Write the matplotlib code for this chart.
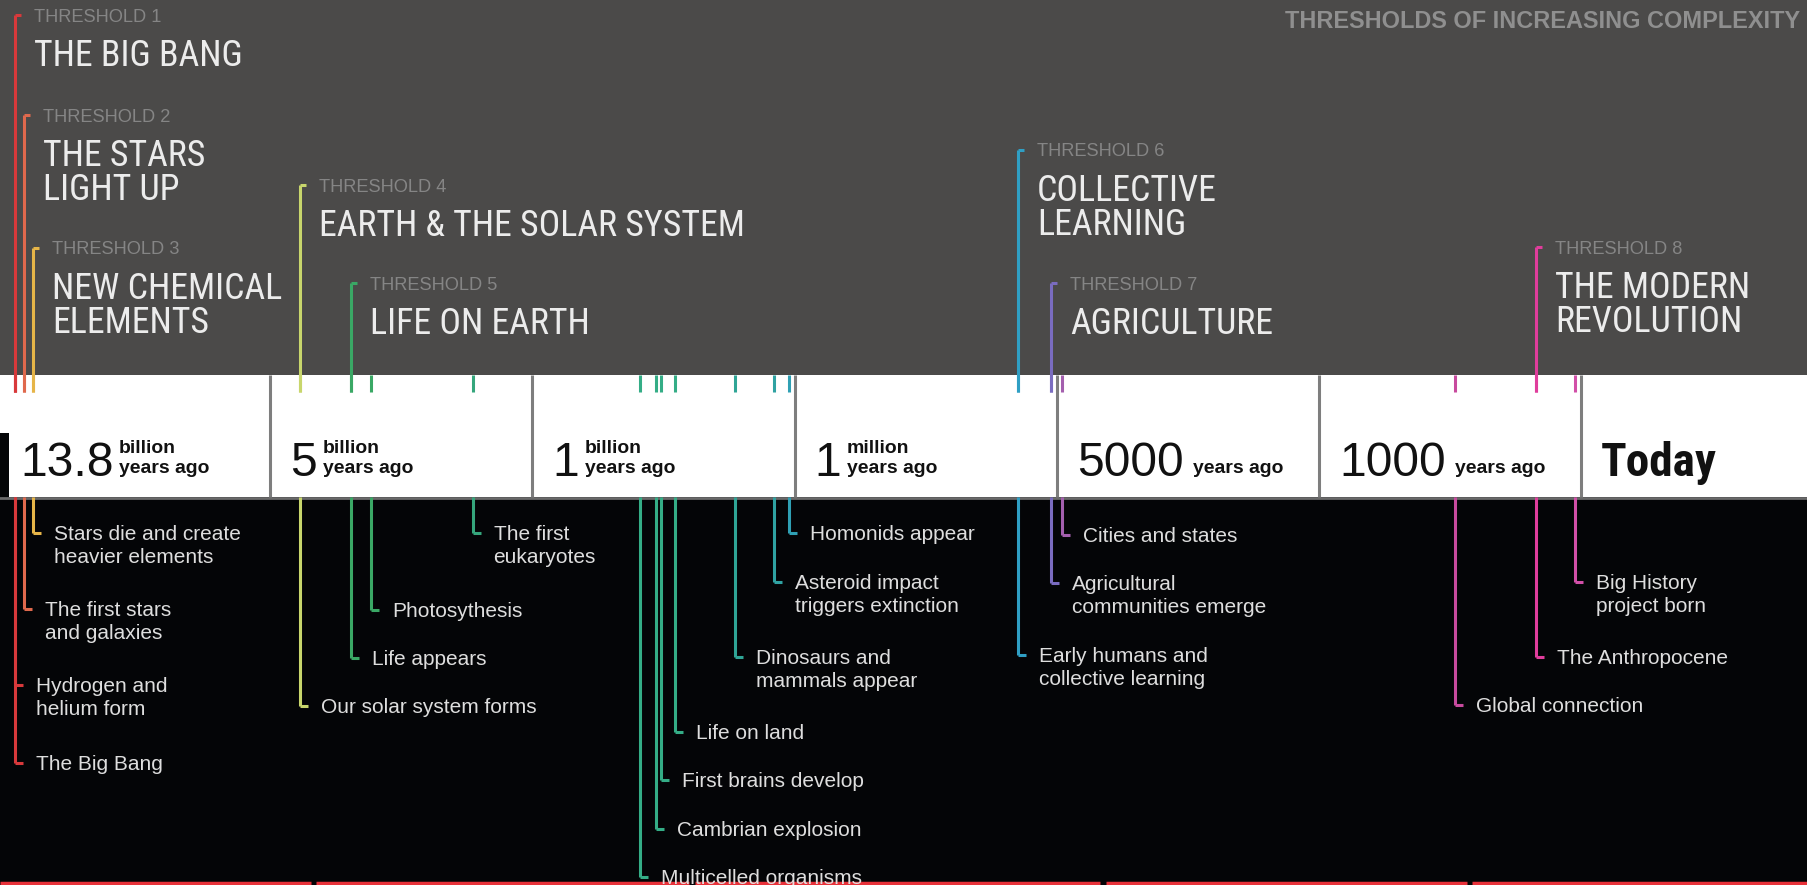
import os
import matplotlib
matplotlib.use('Agg')
import matplotlib.pyplot as plt
from matplotlib import font_manager
from matplotlib.font_manager import FontProperties

# timeline eras (one white box each)
era_numbers = ['13.8', '5', '1', '1', '5000', '1000', 'Today']
era_scale = ['billion', 'billion', 'billion', 'million', '', '', '']

# the eight thresholds, position on the timeline in era units
thr_numbers = [1, 2, 3, 4, 5, 6, 7, 8]
thr_names = ['THE BIG BANG', 'THE STARS\nLIGHT UP', 'NEW CHEMICAL\nELEMENTS',
             'EARTH & THE SOLAR SYSTEM', 'LIFE ON EARTH', 'COLLECTIVE\nLEARNING',
             'AGRICULTURE', 'THE MODERN\nREVOLUTION']
thr_pos = [0.027, 0.061, 0.097, 1.114, 1.308, 3.852, 3.978, 5.828]
thr_colors = ['#d8393b', '#e0694d', '#e6b548', '#c8d66c', '#3aa865',
              '#2f9fc4', '#7a6cc0', '#e03d9c']

# events below the timeline
ev_labels = ['The Big Bang', 'Hydrogen and\nhelium form', 'The first stars\nand galaxies',
             'Stars die and create\nheavier elements', 'Our solar system forms',
             'Life appears', 'Photosythesis', 'The first\neukaryotes',
             'Multicelled organisms', 'Cambrian explosion', 'First brains develop',
             'Life on land', 'Dinosaurs and\nmammals appear',
             'Asteroid impact\ntriggers extinction', 'Homonids appear',
             'Early humans and\ncollective learning', 'Agricultural\ncommunities emerge',
             'Cities and states', 'Global connection', 'The Anthropocene',
             'Big History\nproject born']
ev_pos = [0.027, 0.027, 0.061, 0.097, 1.114, 1.308, 1.386, 1.772,
          2.409, 2.471, 2.490, 2.544, 2.773, 2.920, 2.978,
          3.852, 3.978, 4.018, 5.517, 5.828, 5.976]
ev_colors = ['#d8393b', '#d8393b', '#e0694d', '#e6b548', '#c8d66c',
             '#3aa865', '#3aa865', '#35a67c',
             '#34ad86', '#34ad86', '#34ad86', '#34ad86', '#2fa596', '#2fa2a2', '#2fa0b4',
             '#2f9fc4', '#7a6cc0', '#a45fae', '#c84a9e', '#e03d9c', '#d24fa8']

# layout (pixels from top)
W, H = 1808, 885
PX = 1 / 262.2                      # one pixel in era units
BAND_TOP, BAND_BOT, TICK = 375, 497, 392
thr_top = [15, 115, 248, 185, 283, 150, 283, 247]
ev_y = [763, 685, 609, 533, 706, 658, 610, 533,
        877, 829, 780, 732, 657, 582, 533,
        655, 583, 535, 705, 657, 582]

GRAY, BLACK = '#4b4a49', '#040507'


def condensed_face(bold):
    files = sorted({f.fname for f in font_manager.fontManager.ttflist})
    for key in ['liberationsansnarrow', 'robotocondensed', 'notosans-condensed',
                'dejavusanscondensed', 'opensans_condensed', 'opensanscondensed',
                'opensans-condensed']:
        for fn in files:
            b = os.path.basename(fn).lower()
            if not b.startswith(key) or 'italic' in b or 'oblique' in b:
                continue
            if any(w in b for w in ('light', 'thin', 'medium', 'black', 'semi', 'extra')):
                continue
            if ('bold' in b) == bold:
                return FontProperties(fname=fn)
    return FontProperties(family='Liberation Sans', weight='bold' if bold else 'normal')


BIG = condensed_face(False)
BIG_B = condensed_face(True)
SANS = FontProperties(family='Liberation Sans')
SANS_B = FontProperties(family='Liberation Sans', weight='bold')

fig = plt.figure(figsize=(W / 100, H / 100), dpi=100)
renderer = fig.canvas.get_renderer()


def sized(fp, text, width_px):
    # font size that gives the text the width it has in the picture
    probe = fp.copy()
    probe.set_size(20)
    t = fig.text(0, 0, text, fontproperties=probe)
    w = t.get_window_extent(renderer).width
    t.remove()
    out = fp.copy()
    out.set_size(20 * width_px / w)
    return out


def spacing(fp, step_px):
    px = fp.get_size() * 100 / 72
    return (step_px - 0.21 * px) / (0.73 * px)


f_name = sized(BIG, 'THE BIG BANG', 208)
f_thr = sized(SANS, 'THRESHOLD 1', 128)
f_num = sized(SANS, '5000', 107)
f_today = sized(BIG_B, 'Today', 116)
f_unit = sized(SANS_B, 'years ago', 90)
f_ev = sized(SANS, 'Stars die and create', 186)
f_title = sized(SANS_B, 'THRESHOLDS OF INCREASING COMPLEXITY', 514)

ax = fig.add_axes([0, 0, 1, 1])
ax.set_xlim(-8 * PX, 1800 * PX)
ax.set_ylim(H, 0)
ax.axis('off')

ax.axhspan(0, BAND_TOP, color=GRAY, lw=0)
ax.axhspan(BAND_TOP, BAND_BOT, color='white', lw=0)
ax.axhspan(BAND_BOT, H, color=BLACK, lw=0)
ax.fill_between([-8 * PX, 1 * PX], 433, BAND_BOT, color=BLACK, lw=0)
ax.axhline(BAND_BOT + 1, color='#6a6a6a', lw=2)
ax.vlines(range(1, len(era_numbers)), BAND_TOP, BAND_BOT, color='#7e7e7e', lw=2.2)

# bottom red rule with small gaps
for a, b in [(0, 311), (316, 689), (695, 1100), (1106, 1467), (1472, 1808)]:
    ax.hlines(883, (a - 8) * PX, (b - 8) * PX, color='#e8323a', lw=2.5)

lw = 2.2
# threshold markers above the band
ax.vlines(thr_pos, thr_top, TICK, colors=thr_colors, lw=lw)
ax.hlines(thr_top, thr_pos, [p + 6 * PX for p in thr_pos], colors=thr_colors, lw=lw)
name_px = f_name.get_size() * 100 / 72
for n, name, p, y in zip(thr_numbers, thr_names, thr_pos, thr_top):
    ax.text(p + 19 * PX, y + 2, f'THRESHOLD {n}', color='#858585', fontproperties=f_thr,
            va='center', ha='left')
    ax.text(p + 19 * PX, y + 36 - 0.36 * name_px, name, color='#ececec',
            fontproperties=f_name, va='top', ha='left', linespacing=spacing(f_name, 32))

# event markers below the band
ax.vlines(ev_pos, BAND_TOP, TICK, colors=ev_colors, lw=lw)
ax.vlines(ev_pos, BAND_BOT, ev_y, colors=ev_colors, lw=lw)
ax.hlines(ev_y, ev_pos, [p + 8 * PX for p in ev_pos], colors=ev_colors, lw=lw)
ev_px = f_ev.get_size() * 100 / 72
for lab, p, y in zip(ev_labels, ev_pos, ev_y):
    ax.text(p + 21 * PX, y - 0.37 * ev_px, lab, color='#dedede', fontproperties=f_ev,
            va='top', ha='left', linespacing=spacing(f_ev, 23))

# era labels in the white band
for i, (num, sc) in enumerate(zip(era_numbers, era_scale)):
    today = num == 'Today'
    t = ax.text(i + (12 if i == 0 else 20) * PX, 476, num, color='#111111',
                fontproperties=f_today if today else f_num, va='baseline', ha='left')
    if today:
        continue
    if sc:
        ax.annotate(sc, xy=(1, 453), xycoords=(t, 'data'), xytext=(4, 0),
                    textcoords='offset points', fontproperties=f_unit, color='#111111',
                    va='baseline', ha='left')
    ax.annotate('years ago', xy=(1, 473), xycoords=(t, 'data'), xytext=(4 if sc else 7, 0),
                textcoords='offset points', fontproperties=f_unit, color='#111111',
                va='baseline', ha='left')

fig.text(1800 / W, 1 - 21 / H, 'THRESHOLDS OF INCREASING COMPLEXITY', color='#8f8f8f',
         fontproperties=f_title, ha='right', va='center')

fig.savefig('out.png', dpi=100, facecolor=BLACK)
